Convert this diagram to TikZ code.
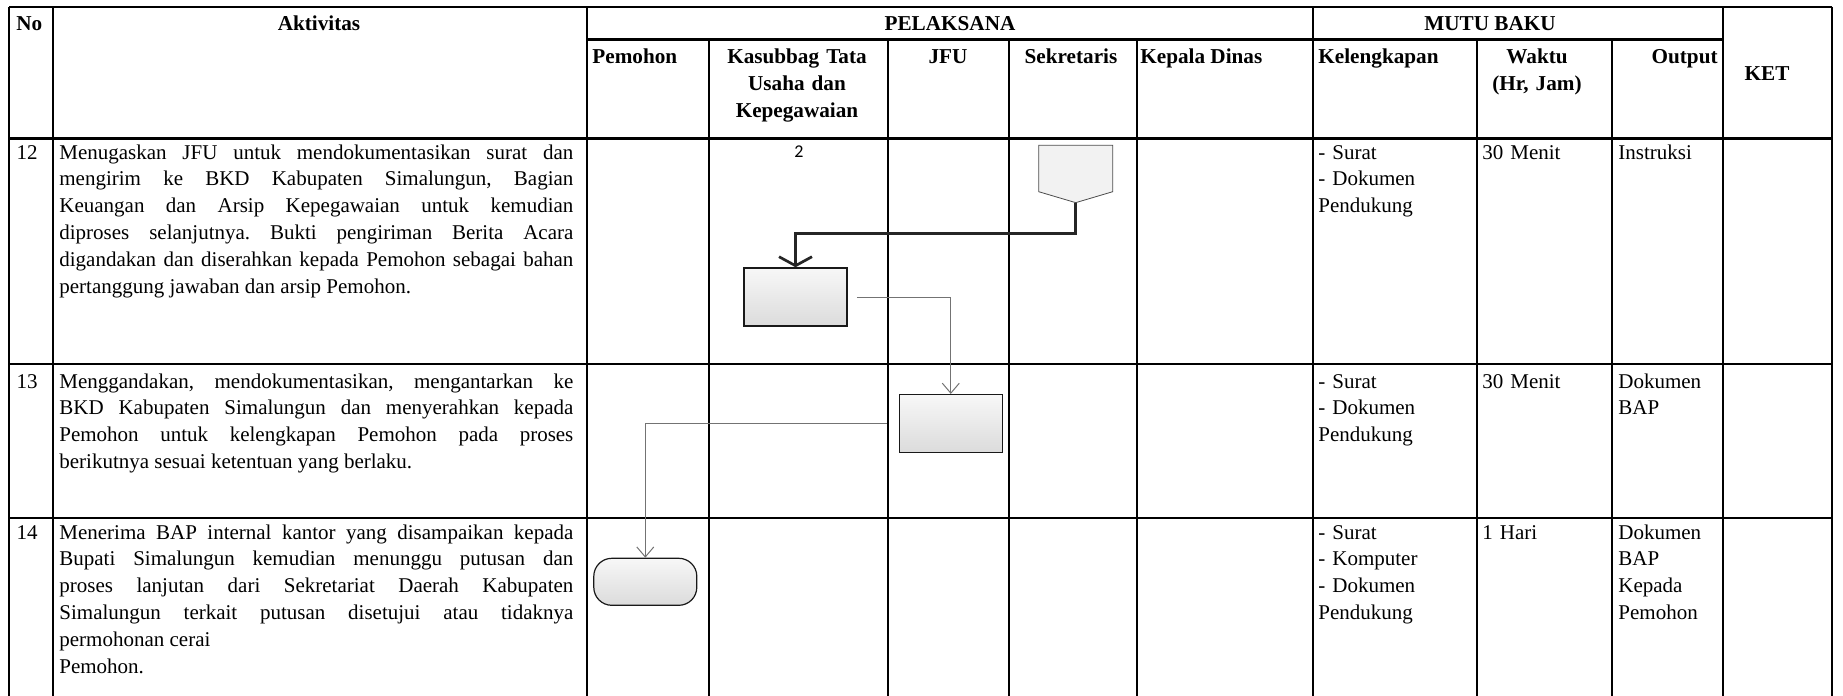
\documentclass[tikz,border=0pt]{standalone}
\usepackage{fontspec}
\setmainfont{Liberation Serif}
\newfontfamily\calibri{Carlito}
\usetikzlibrary{arrows.meta,shapes.symbols}
\frenchspacing

\begin{document}
\begin{tikzpicture}[x=0.5pt,y=-0.5pt,line join=miter]
    \tikzstyle{garis}=[line width=1.15pt]
    \tikzstyle{hd}=[font=\fontsize{10.6}{13.5}\selectfont\bfseries,inner sep=0pt]
    \tikzstyle{isi}=[font=\fontsize{10.5}{13.4}\selectfont,inner sep=0pt,anchor=base west,text width=60pt,align=left]
    \tikzstyle{akt}=[isi,text width=257pt,align=justify]
    \tikzstyle{proses}=[draw=black!90,line width=0.75pt,top color=black!3,bottom color=black!14,minimum width=51.5pt,minimum height=29pt,inner sep=0pt]
    \tikzstyle{terminal}=[proses,rounded corners=9pt,line width=0.6pt,minimum height=23.5pt]
    \tikzstyle{offpage}=[signal,signal to=south,signal pointer angle=147,draw=black!70,line width=0.4pt,fill=black!5,minimum width=37pt,minimum height=23.2pt,inner sep=0pt]
    \tikzstyle{tebal}=[draw=black!85,line width=1.35pt,-{Straight Barb[length=4.5pt,width=16.5pt]}]
    \tikzstyle{alur}=[draw=black!55,line width=0.5pt,-{Straight Barb[length=5pt,width=8.5pt]}]

    \useasboundingbox (0,0) rectangle (1843,696);

    % kerangka tabel
    \draw[garis] (9,6.7) -- (1832,6.7);
    \draw[garis] (587,39.5) -- (1723,39.5);
    \foreach \y in {138.5,364,518}
        \draw[garis] (9,\y) -- (1832,\y);
    \foreach \x in {9,53,587,1313,1723,1832}
        \draw[garis] (\x,6.7) -- (\x,696);
    \foreach \x in {709,888,1009,1137,1477,1612}
        \draw[garis] (\x,39.5) -- (\x,696);

    % judul kolom
    \node[hd,anchor=base west] (hno)   at (16,31)   {No};
    \node[hd,anchor=base]      (hakt)  at (319,31)  {Aktivitas};
    \node[hd,anchor=base]      (hpel)  at (950,31)  {PELAKSANA};
    \node[hd,anchor=base]      (hmutu) at (1490,31) {MUTU BAKU};
    \node[hd,anchor=base west] (hpem)  at (592,63)  {Pemohon};
    \node[hd,anchor=base,text width=88pt,align=center] (hkas) at (797,63) {Kasubbag Tata\\Usaha dan\\Kepegawaian};
    \node[hd,anchor=base]      (hjfu)  at (948,63)  {JFU};
    \node[hd,anchor=base]      (hsek)  at (1071,63) {Sekretaris};
    \node[hd,anchor=base west] (hkep)  at (1140,63) {Kepala Dinas};
    \node[hd,anchor=base west] (hkel)  at (1318,63) {Kelengkapan};
    \node[hd,anchor=base,text width=64pt,align=center] (hwak) at (1537,63) {Waktu\\(Hr, Jam)};
    \node[hd,anchor=base east] (hout)  at (1718,63) {Output};
    \node[hd,anchor=base]      (hket)  at (1767,80) {KET};

    % baris 12
    \node[isi,anchor=base east,text width=] (n12) at (38,159) {12};
    \node[akt] (a12) at (59,159) {Menugaskan JFU untuk mendokumentasikan surat dan\linebreak
        mengirim ke BKD Kabupaten Simalungun, Bagian\linebreak
        Keuangan dan Arsip Kepegawaian untuk kemudian\linebreak
        diproses selanjutnya. Bukti pengiriman Berita Acara\linebreak
        digandakan dan diserahkan kepada Pemohon sebagai bahan\linebreak
        pertanggung jawaban dan arsip Pemohon.};
    \node[isi] (k12) at (1318,159) {- Surat\\- Dokumen\\Pendukung};
    \node[isi] (w12) at (1482,159) {30 Menit};
    \node[isi] (o12) at (1618,159) {Instruksi};

    % baris 13
    \node[isi,anchor=base east,text width=] (n13) at (38,388) {13};
    \node[akt] (a13) at (59,388) {Menggandakan, mendokumentasikan, mengantarkan ke\linebreak
        BKD Kabupaten Simalungun dan menyerahkan kepada\linebreak
        Pemohon untuk kelengkapan Pemohon pada proses\linebreak
        berikutnya sesuai ketentuan yang berlaku.};
    \node[isi] (k13) at (1318,388) {- Surat\\- Dokumen\\Pendukung};
    \node[isi] (w13) at (1482,388) {30 Menit};
    \node[isi] (o13) at (1618,388) {Dokumen\\BAP};

    % baris 14
    \node[isi,anchor=base east,text width=] (n14) at (38,539) {14};
    \node[akt] (a14) at (59,539) {Menerima BAP internal kantor yang disampaikan kepada\linebreak
        Bupati Simalungun kemudian menunggu putusan dan\linebreak
        proses lanjutan dari Sekretariat Daerah Kabupaten\linebreak
        Simalungun terkait putusan disetujui atau tidaknya\linebreak
        permohonan cerai\\
        Pemohon.};
    \node[isi] (k14) at (1318,539) {- Surat\\- Komputer\\- Dokumen\\Pendukung};
    \node[isi] (w14) at (1482,539) {1 Hari};
    \node[isi] (o14) at (1618,539) {Dokumen\\BAP\\Kepada\\Pemohon};

    % simbol alur
    \node[font=\calibri\fontsize{9}{10}\selectfont,inner sep=0pt] (hal) at (799,152) {2};
    \node[offpage] (sek)  at (1075.7,168.5) {};
    \node[proses]  (kbox) at (795.5,297) {};
    \node[proses]  (jbox) at (950.8,423.7) {};
    \node[terminal] (pbox) at (645.3,581.8) {};

    \draw[tebal] (sek.south) -- ++(0,30.6) -| (kbox.north);
    \draw[alur] ([xshift=4.5pt]kbox.east) -| (jbox.north);
    \draw[alur] ([xshift=-6pt]jbox.west) -| (pbox.north);
\end{tikzpicture}
\end{document}
